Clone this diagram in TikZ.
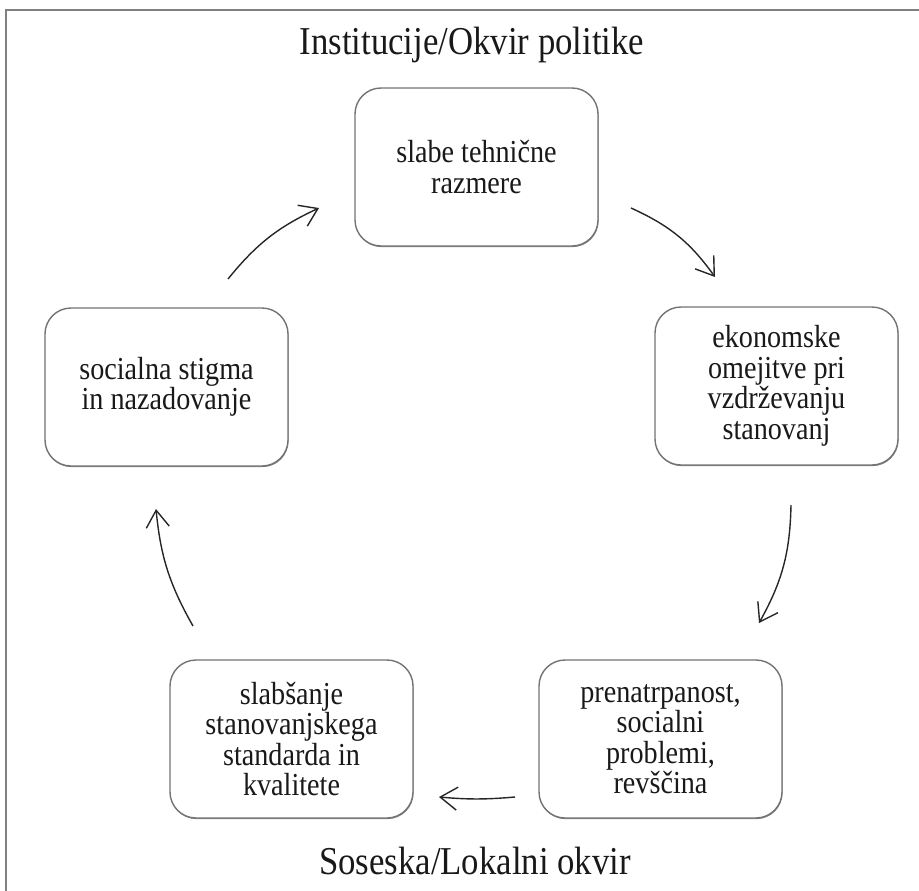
\documentclass[tikz,border=0pt]{standalone}
\usepackage{fontspec}
\setmainfont{Liberation Serif}
\newfontfamily\narrowserif[FakeStretch=0.88]{Liberation Serif}
\usetikzlibrary{arrows.meta,shadows}
\begin{document}
\begin{tikzpicture}[x=1bp,y=-1bp,
  frameline/.style={draw=black!50, line width=1.4bp},
  stage/.style={draw=black!55, line width=1.4bp, rounded corners=26bp, fill=white,
    drop shadow={shadow xshift=0.5bp, shadow yshift=-1.1bp, fill=black!50, opacity=1},
    minimum width=243bp, minimum height=158bp, inner sep=0pt, align=center,
    font=\narrowserif\fontsize{32bp}{30.5bp}\selectfont, text=black!90},
  heading/.style={font=\narrowserif\fontsize{39.5bp}{42bp}\selectfont, text=black!90, inner sep=0pt},
  flow/.style={draw=black!85, line width=1.4bp,
    -{Straight Barb[length=17bp,width=23bp,line width=1.4bp]}}]
\useasboundingbox (0,0) rectangle (919,891);
% open frame (left and top edges)
\draw[frameline] (6,891) -- (6,10) -- (919,10);

% headings
\node[heading] (top) at (472,45) {Institucije/Okvir politike};
\node[heading] (bottom) at (475,861) {Soseska/Lokalni okvir};

% stages of the cycle
\node[stage] (tech)  at (476.5,167) {slabe tehnične\\razmere};
\node[stage] (econ)  at (776.5,386) {ekonomske\\omejitve pri\\vzdrževanju\\stanovanj};
\node[stage] (crowd) at (660.5,739) {prenatrpanost,\\socialni\\problemi,\\revščina};
\node[stage] (qual)  at (291.5,739) {slabšanje\\stanovanjskega\\standarda in\\kvalitete};
\node[stage] (stig)  at (166.5,387) {socialna stigma\\in nazadovanje};

% arrow end points between the stages
\coordinate (s1) at (228,279); \coordinate (e1) at (319,208);
\coordinate (s2) at (631,208); \coordinate (e2) at (715,277);
\coordinate (s3) at (791,505); \coordinate (e3) at (759,623);
\coordinate (s4) at (515,797); \coordinate (e4) at (439,797);
\coordinate (s5) at (193,626); \coordinate (e5) at (156,509);

\draw[flow] (s1) to[bend left=13] (e1);
\draw[flow] (s2) to[bend left=15] (e2);
\draw[flow] (s3) to[bend left=14] (e3);
\draw[flow] (s4) to[bend left=5] (e4);
\draw[flow] (s5) to[bend left=12] (e5);
\end{tikzpicture}
\end{document}
